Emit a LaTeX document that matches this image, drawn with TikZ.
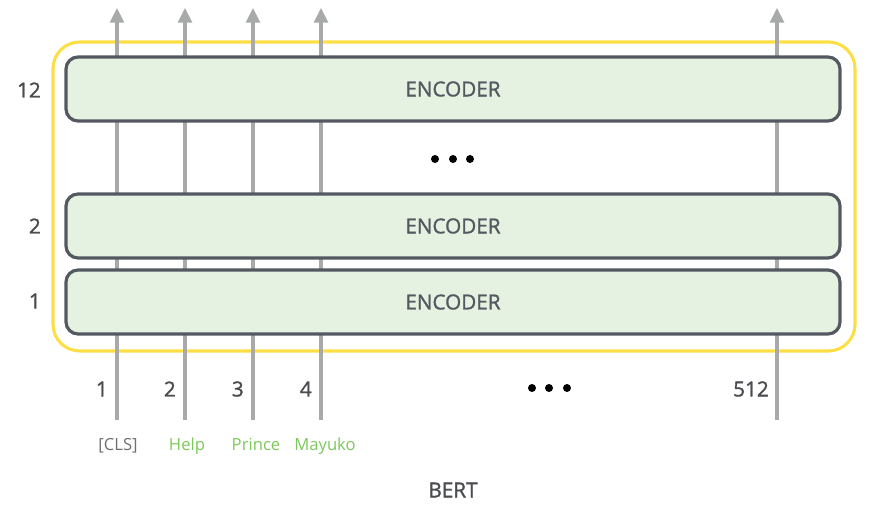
\documentclass[tikz,border=0pt]{standalone}
\usepackage{fontspec}
\setmainfont{Open Sans}
\newfontfamily\semifont[FakeBold=1.4]{Open Sans}
\usepackage{tikz}
\usetikzlibrary{arrows.meta}
\definecolor{encfill}{HTML}{E6F2E1}
\definecolor{encdraw}{HTML}{545961}
\definecolor{arrgray}{HTML}{A8AAA9}
\definecolor{bertyellow}{HTML}{FDDF45}
\definecolor{tokgreen}{HTML}{7BC95A}
\definecolor{numgray}{HTML}{4A4C50}

\begin{document}
\begin{tikzpicture}[x=0.75pt,y=-0.75pt]
							\tikzstyle{encoder}=[draw=encdraw,fill=encfill,line width=2.4pt,rounded corners=9pt,minimum width=580.5pt,minimum height=48pt,text=encdraw,font=\semifont\fontsize{15.5}{18}\selectfont]
							\tikzstyle{layernum}=[anchor=east,text=numgray,font=\semifont\fontsize{15.5}{18}\selectfont,inner sep=0pt]
							\tikzstyle{posnum}=[anchor=east,text=numgray,font=\semifont\fontsize{15.5}{18}\selectfont,inner sep=0pt]
							\tikzstyle{token}=[anchor=base,text=tokgreen,font=\fontsize{12.5}{15}\selectfont,inner sep=0pt]
							\tikzstyle{arrline}=[draw=arrgray,line width=2.3pt,-{Triangle[width=10.5pt,length=11pt]}]
							\tikzstyle{dot}=[circle,fill=black,minimum size=6pt,inner sep=0pt]
							\useasboundingbox (0,0) rectangle (877,510);
							\draw[bertyellow,line width=2.3pt,rounded corners=20pt] (53,42) rectangle (855,351);
							\coordinate (b1) at (117,420);
							\coordinate (t1) at (117,8);
							\coordinate (b2) at (185,420);
							\coordinate (t2) at (185,8);
							\coordinate (b3) at (253,420);
							\coordinate (t3) at (253,8);
							\coordinate (b4) at (321,420);
							\coordinate (t4) at (321,8);
							\coordinate (b5) at (777,420);
							\coordinate (t5) at (777,8);
							\draw[arrline] (b1) -- (t1);
							\draw[arrline] (b2) -- (t2);
							\draw[arrline] (b3) -- (t3);
							\draw[arrline] (b4) -- (t4);
							\draw[arrline] (b5) -- (t5);
							\node[encoder] (e12) at (453,89) {ENCODER};
							\node[encoder] (e2) at (453,226) {ENCODER};
							\node[encoder] (e1) at (453,302) {ENCODER};
							\node[layernum] (l12) at (41,90) {12};
							\node[layernum] (l2) at (41,226) {2};
							\node[layernum] (l1) at (41,301) {1};
							\node[dot] (d1) at (435,159) {};
							\node[dot] (d2) at (453,159) {};
							\node[dot] (d3) at (470,159) {};
							\node[posnum] (p1) at (108,389) {1};
							\node[posnum] (p2) at (176,389) {2};
							\node[posnum] (p3) at (244,389) {3};
							\node[posnum] (p4) at (312,389) {4};
							\node[posnum] (p512) at (769,389) {512};
							\node[dot] (d4) at (532,388) {};
							\node[dot] (d5) at (549,388) {};
							\node[dot] (d6) at (567,388) {};
							\node[token,text=numgray!80] (w1) at (118,450) {[CLS]};
							\node[token] (w2) at (187,450) {Help};
							\node[token] (w3) at (256,450) {Prince};
							\node[token] (w4) at (325,450) {Mayuko};
							\node[text=numgray,font=\semifont\fontsize{15.5}{18}\selectfont] (bert) at (453,490) {BERT};
							\end{tikzpicture}
\end{document}
